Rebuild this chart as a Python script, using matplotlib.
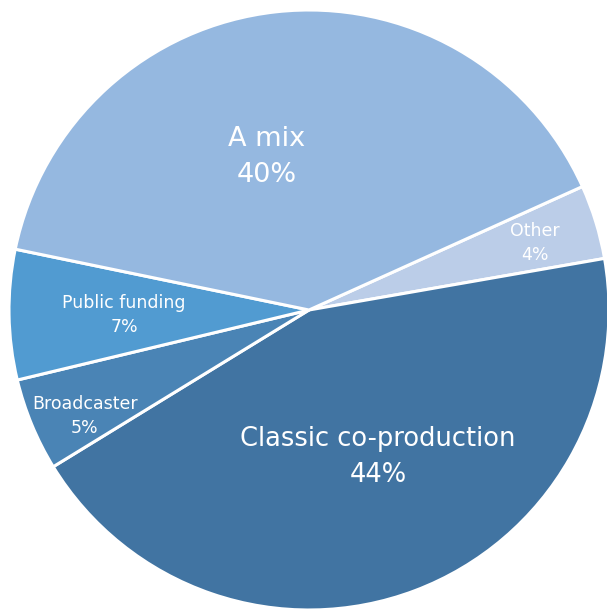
import matplotlib.pyplot as plt

plt.rcParams['font.family'] = ['DejaVu Sans']

# funding sources, in clockwise order starting at the "Other" slice
labels = ['Other', 'Classic co-production', 'Broadcaster', 'Public funding', 'A mix']
shares = [4, 44, 5, 7, 40]
colors = ['#BBCDE8', '#4174A2', '#4A84B5', '#519BD1', '#95B8E0']

# label centres (pixel coordinates, y measured from the bottom), font sizes, line spacing
label_xy = [(535, 367), (378, 153), (85, 194), (124, 295), (267, 453)]
label_size = [12.5, 18.5, 12.5, 12.5, 19.5]
label_gap = [1.45, 1.45, 1.45, 1.45, 1.55]

fig = plt.figure(figsize=(6.07, 6.10), dpi=100)
ax = fig.add_axes([0, 0, 1, 1])
ax.pie(shares, colors=colors, startangle=24.3, counterclock=False,
       center=(309, 300), radius=300,
       wedgeprops=dict(edgecolor='white', linewidth=2.2))
ax.set_xlim(0, 607)
ax.set_ylim(0, 610)
ax.set_aspect('equal')
ax.axis('off')

for name, val, (x, y), fs, gap in zip(labels, shares, label_xy, label_size, label_gap):
    ax.text(x, y, f'{name}\n{val}%', ha='center', va='center', color='white',
            fontsize=fs, linespacing=gap)

fig.savefig('out.png', dpi=100)
